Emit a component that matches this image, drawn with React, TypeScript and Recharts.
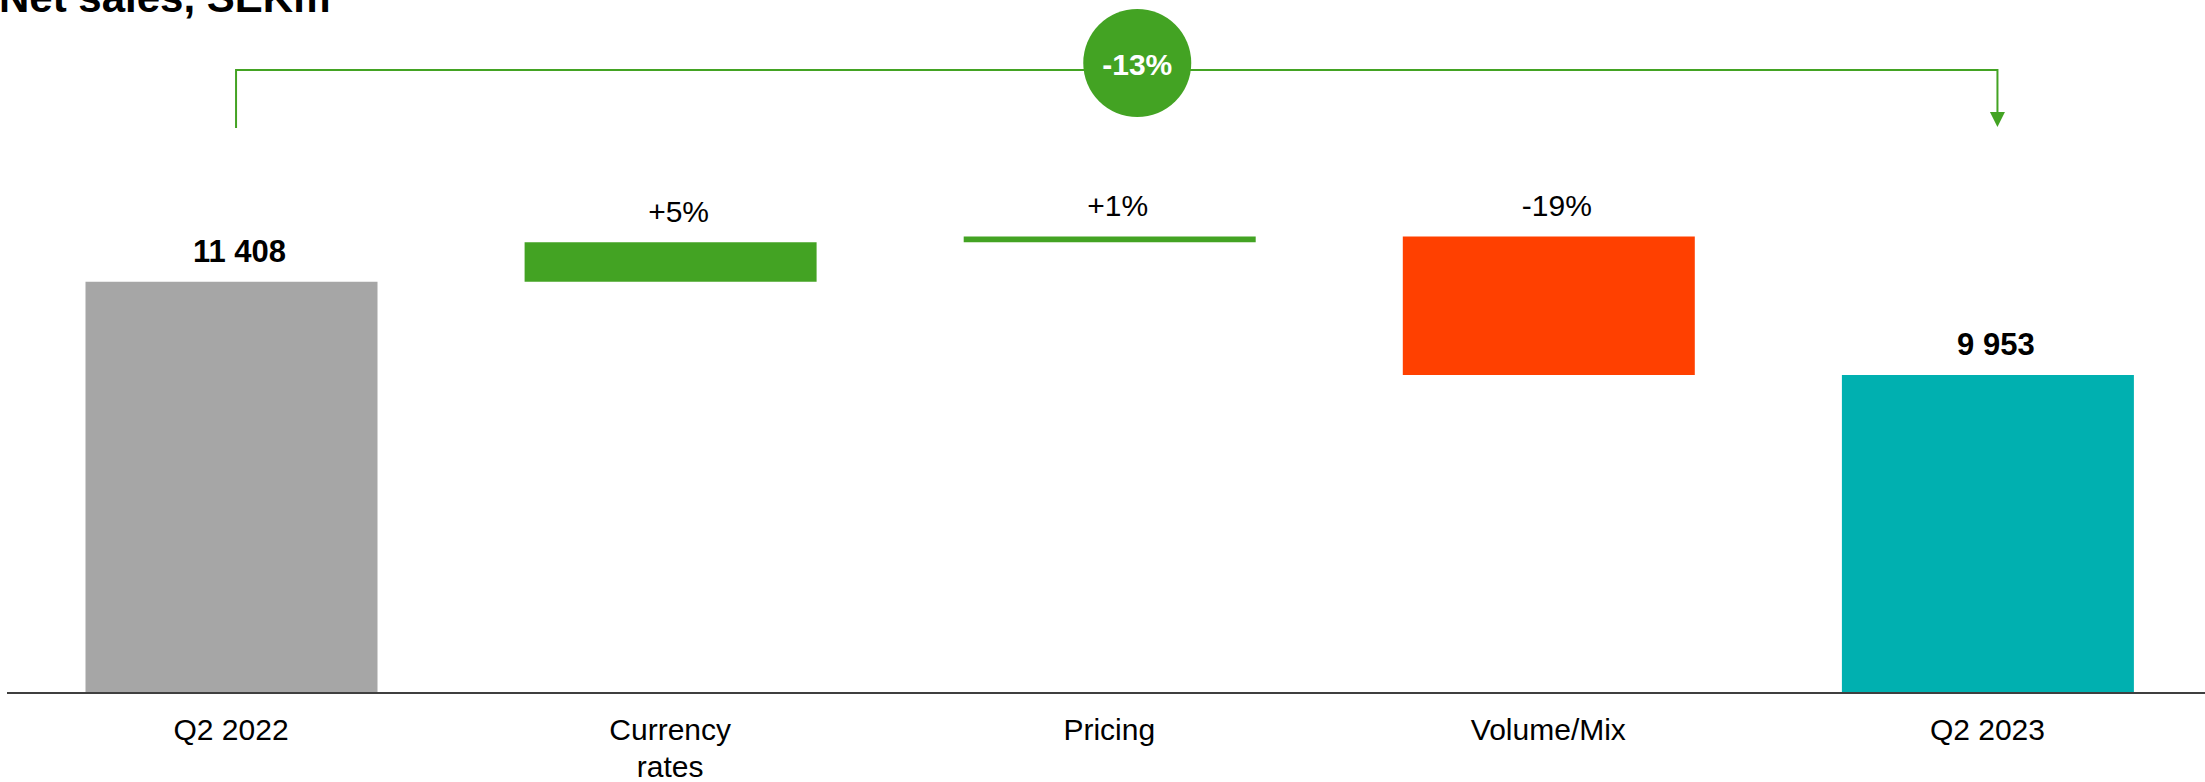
import React from 'react';
import { BarChart, Bar, XAxis, YAxis, Cell, LabelList, Customized } from 'recharts';

// Net sales bridge, SEKm
const categories = ['Q2 2022', 'Currency rates', 'Pricing', 'Volume/Mix', 'Q2 2023'];
const startValue = 11408;
const deltas = [620, 90, -2165];
const endValue = 9953;
const barColors = ['#A6A6A6', '#43A323', '#43A323', '#FF4000', '#00B0B0'];

const Y_MIN = 4980;
const Y_MAX = 12500;

const WIDTH = 2210;
const HEIGHT = 782;
const AXIS_H = 30;
const MARGIN = { top: 212, right: 3, bottom: 89 - AXIS_H, left: 7 };
const PAD_LEFT = 4.5;
const FONT = '"Liberation Sans", Arial, sans-serif';
const GREEN = '#43A323';

const fmtTotal = (v: number) => v.toString().replace(/\B(?=(\d{3})+(?!\d))/g, ' ');
const fmtPct = (v: number) => (v > 0 ? '+' : '') + Math.round(v * 100) + '%';

const buildData = () => {
  const rows: any[] = [];
  rows.push({ name: categories[0], range: [Y_MIN, startValue], label: fmtTotal(startValue), total: true });
  let run = startValue;
  deltas.forEach((d, i) => {
    const next = run + d;
    rows.push({
      name: categories[i + 1],
      range: [Math.min(run, next), Math.max(run, next)],
      label: fmtPct(d / startValue),
      total: false,
    });
    run = next;
  });
  rows.push({ name: categories[4], range: [Y_MIN, endValue], label: fmtTotal(endValue), total: true });
  return rows;
};

const data = buildData();

const CategoryTick = ({ x, y, payload }: any) => {
  const label: string = payload.value;
  const lines = label.length > 12 && label.includes(' ') ? label.split(' ') : [label];
  return (
    <text x={x} y={y + 47} textAnchor="middle" fontSize={30} fontFamily={FONT} fill="#000">
      {lines.map((l, i) => (
        <tspan key={i} x={x} dy={i === 0 ? 0 : 37}>
          {l}
        </tspan>
      ))}
    </text>
  );
};

const BarLabel = (props: any) => {
  const { x, y, width, value, index } = props;
  const bold = data[index]?.total;
  return (
    <text
      x={x + width / 2 + 8}
      y={y - 20}
      textAnchor="middle"
      fontSize={bold ? 31 : 30}
      fontWeight={bold ? 'bold' : 'normal'}
      fontFamily={FONT}
      fill="#000"
    >
      {value}
    </text>
  );
};

const Overlay = () => {
  const plotW = WIDTH - MARGIN.left - MARGIN.right - PAD_LEFT;
  const band = plotW / categories.length;
  const center = (i: number) => MARGIN.left + PAD_LEFT + band * (i + 0.5);
  const lx = center(0) + 5;
  const rx = center(4) + 10;
  const topY = 70;
  const cx = center(2) + 28;
  const change = fmtPct((endValue - startValue) / startValue);
  return (
    <g>
      <text x={-1} y={12} fontSize={42} fontWeight="bold" fontFamily={FONT} fill="#000">
        Net sales, SEKm
      </text>
      <polyline
        points={`${lx},128 ${lx},${topY} ${rx},${topY} ${rx},114`}
        fill="none"
        stroke={GREEN}
        strokeWidth={2}
      />
      <polygon points={`${rx - 7.5},112 ${rx + 7.5},112 ${rx},127`} fill={GREEN} />
      <circle cx={cx} cy={63} r={54} fill={GREEN} />
      <text
        x={cx}
        y={75}
        textAnchor="middle"
        fontSize={30}
        fontWeight="bold"
        fontFamily={FONT}
        fill="#fff"
      >
        {change}
      </text>
    </g>
  );
};

export default function App() {
  return (
    <div
      style={{
        position: 'absolute',
        top: 0,
        left: 0,
        width: 2205,
        height: 782,
        overflow: 'hidden',
        background: '#fff',
      }}
    >
      <BarChart width={WIDTH} height={HEIGHT} data={data} margin={MARGIN} barSize={292}>
        <XAxis
          dataKey="name"
          height={AXIS_H}
          axisLine={{ stroke: '#3f3f3f', strokeWidth: 2 }}
          tickLine={false}
          tickSize={0}
          tickMargin={0}
          interval={0}
          padding={{ left: PAD_LEFT, right: 0 }}
          tick={<CategoryTick />}
        />
        <YAxis hide domain={[Y_MIN, Y_MAX]} allowDataOverflow />
        <Bar dataKey="range" isAnimationActive={false}>
          {data.map((d, i) => (
            <Cell key={d.name} fill={barColors[i]} />
          ))}
          <LabelList dataKey="label" content={<BarLabel />} />
        </Bar>
        <Customized component={<Overlay />} />
      </BarChart>
    </div>
  );
}
